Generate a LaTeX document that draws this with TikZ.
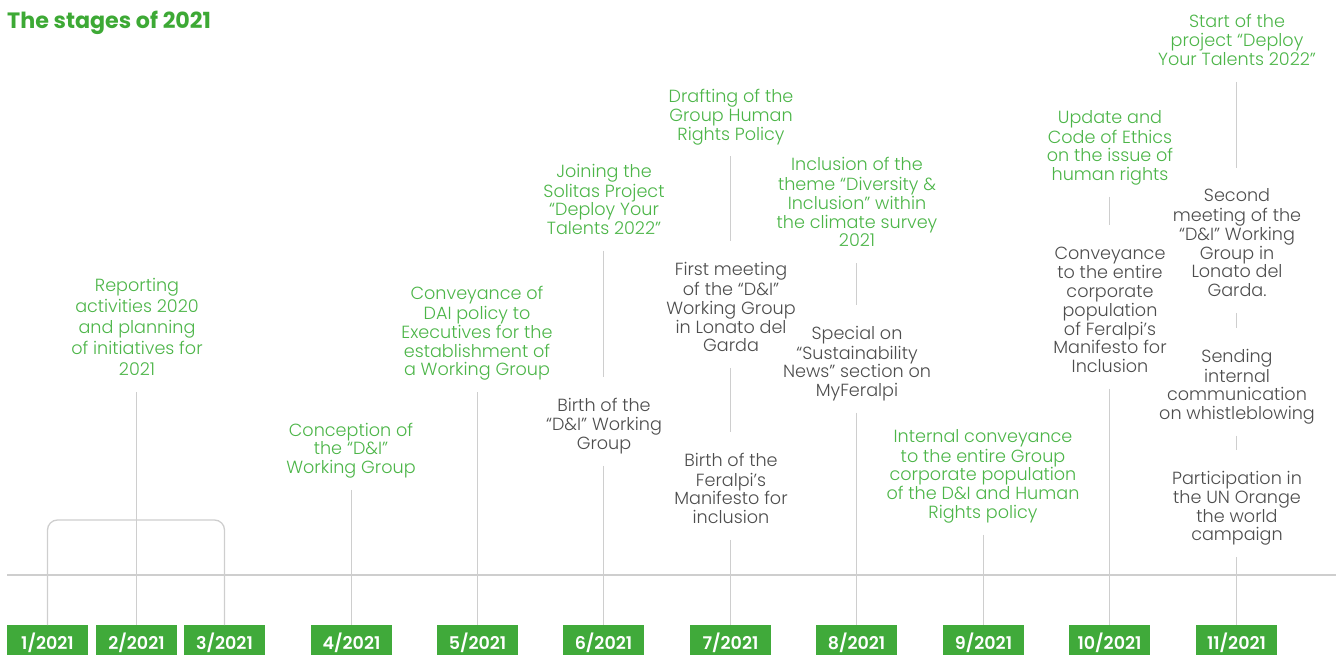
\documentclass[tikz,border=0pt]{standalone}
\usepackage{fontspec}
\setmainfont{Poppins}[UprightFont=* Light, BoldFont=* SemiBold]
\newfontfamily\titlefam{Poppins}
\definecolor{tgreen}{RGB}{76,181,72}
\definecolor{bgreen}{RGB}{64,170,58}
\definecolor{titlegreen}{RGB}{61,169,53}
\definecolor{tgray}{RGB}{77,77,77}
\definecolor{lgray}{RGB}{206,206,206}
\newcommand\ST[1]{\strut#1\strut}
\begin{document}
\begin{tikzpicture}[x=1pt,y=-1pt,
  ev/.style={align=center, font=\fontsize{17.6}{18.7}\selectfont, inner sep=0pt},
  evg/.style={ev, text=tgreen},
  evk/.style={ev, text=tgray},
  mbox/.style={fill=bgreen, text=white, anchor=north, inner sep=0pt,
    minimum width=81pt, minimum height=36pt, font=\fontsize{17.5}{18}\selectfont\bfseries},
  vline/.style={draw=lgray, line width=1.3pt},
  seg/.style={vline, shorten <=10.5pt, shorten >=21pt},
  segb/.style={vline, shorten <=10.5pt}
]
\useasboundingbox (0,0) rectangle (1336,655);
\clip (0,0) rectangle (1336,655);

% title
\node[anchor=west, inner sep=0pt, text=titlegreen, font=\titlefam\fontsize{22.2}{24}\selectfont\bfseries] (title) at (7,23) {The stages of 2021};

% axis
\coordinate (axL) at (7,575);
\coordinate (axR) at (1336,575);
\draw[vline] (axL) -- (axR);

% month boxes
\node[mbox] (b1) at (47.5,625) {1/2021};
\node[mbox] (b2) at (136.5,625) {2/2021};
\node[mbox] (b3) at (224.5,625) {3/2021};
\node[mbox] (b4) at (351.5,625) {4/2021};
\node[mbox] (b5) at (477.5,625) {5/2021};
\node[mbox] (b6) at (603.5,625) {6/2021};
\node[mbox] (b7) at (730.5,625) {7/2021};
\node[mbox] (b8) at (856.5,625) {8/2021};
\node[mbox] (b9) at (983.5,625) {9/2021};
\node[mbox] (b10) at (1109.5,625) {10/2021};
\node[mbox] (b11) at (1236.5,625) {11/2021};

% texts
\node[evg, font=\fontsize{17.6}{21}\selectfont] (t2) at (137,329) {\ST{Reporting\\activities 2020\\and planning\\of initiatives for\\2021}};
\node[evg] (t4) at (351,451) {\ST{Conception of\\the “D\&I”\\Working Group}};
\node[evg] (t5) at (477,334) {\ST{Conveyance of\\DAI policy to\\Executives for the\\establishment of\\a Working Group}};
\node[evg] (t6a) at (604,202) {\ST{Joining the\\Solitas Project\\“Deploy Your\\Talents 2022”}};
\node[evk] (t6b) at (604,426.5) {\ST{Birth of the\\“D\&I” Working\\Group}};
\node[evg] (t7a) at (731,117.5) {\ST{Drafting of the\\Group Human\\Rights Policy}};
\node[evk] (t7b) at (731,310) {\ST{First meeting\\of the “D\&I”\\Working Group\\in Lonato del\\Garda}};
\node[evk] (t7c) at (731,491) {\ST{Birth of the\\Feralpi’s\\Manifesto for\\inclusion}};
\node[evg] (t8a) at (857,205) {\ST{Inclusion of the\\theme “Diversity \&\\Inclusion” within\\the climate survey\\2021}};
\node[evk] (t8b) at (857,364) {\ST{Special on\\“Sustainability\\News” section on\\MyFeralpi}};
\node[evg] (t9) at (983,476.5) {\ST{Internal conveyance\\to the entire Group\\corporate population\\of the D\&I and Human\\Rights policy}};
\node[evg] (t10a) at (1110,148) {\ST{Update and\\Code of Ethics\\on the issue of\\human rights}};
\node[evk] (t10b) at (1110,312) {\ST{Conveyance\\to the entire\\corporate\\population\\of Feralpi’s\\Manifesto for\\Inclusion}};
\node[evg] (t11a) at (1237,42.5) {\ST{Start of the\\project “Deploy\\Your Talents 2022”}};
\node[evk] (t11b) at (1237,245.5) {\ST{Second\\meeting of the\\“D\&I” Working\\Group in\\Lonato del\\Garda.}};
\node[evk] (t11c) at (1237,387) {\ST{Sending\\internal\\communication\\on whistleblowing}};
\node[evk] (t11d) at (1237,509) {\ST{Participation in\\the UN Orange\\the world\\campaign}};

% bracket for months 1-3
\coordinate (brk) at (224.5,520);
\draw[vline, rounded corners=10pt] (b1.north) |- (brk) -- (b3.north);

% connectors
\draw[segb] (t2.south -| b2.north) -- (b2.north);
\draw[segb] (t4.south -| b4.north) -- (b4.north);
\draw[segb] (t5.south -| b5.north) -- (b5.north);
\draw[seg] (t6a.south -| b6.north) -- (t6b.north -| b6.north);
\draw[segb] (t6b.south -| b6.north) -- (b6.north);
\draw[seg] (t7a.south -| b7.north) -- (t7b.north -| b7.north);
\draw[seg] (t7b.south -| b7.north) -- (t7c.north -| b7.north);
\draw[segb] (t7c.south -| b7.north) -- (b7.north);
\draw[seg] (t8a.south -| b8.north) -- (t8b.north -| b8.north);
\draw[segb] (t8b.south -| b8.north) -- (b8.north);
\draw[segb] (t9.south -| b9.north) -- (b9.north);
\draw[seg] (t10a.south -| b10.north) -- (t10b.north -| b10.north);
\draw[segb] (t10b.south -| b10.north) -- (b10.north);
\draw[seg] (t11a.south -| b11.north) -- (t11b.north -| b11.north);
\draw[seg] (t11b.south -| b11.north) -- (t11c.north -| b11.north);
\draw[seg] (t11c.south -| b11.north) -- (t11d.north -| b11.north);
\draw[segb] (t11d.south -| b11.north) -- (b11.north);
\end{tikzpicture}
\end{document}
